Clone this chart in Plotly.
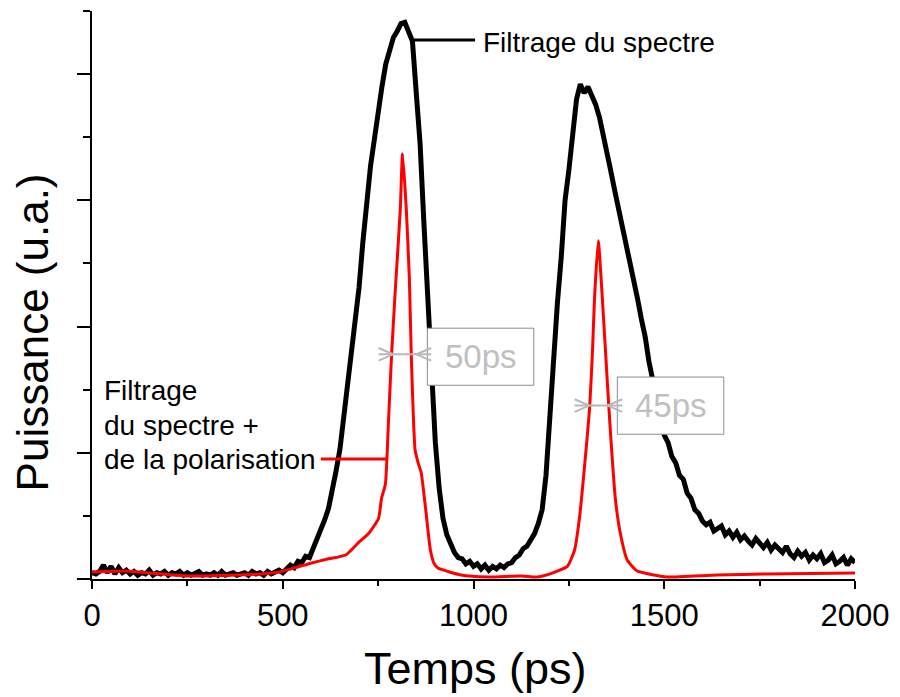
import plotly.graph_objects as go

# Spectral filtering only: measured trace, sampled every 10 ps
time_black = list(range(0, 2001, 10))
power_black = [
    0.05, 0.04, 0.06, 0.11, 0.05, 0.10, 0.04, 0.09, 0.05, 0.07,
    0.04, 0.06, 0.03, 0.05, 0.04, 0.07, 0.03, 0.05, 0.04, 0.06,
    0.03, 0.05, 0.04, 0.06, 0.03, 0.05, 0.03, 0.04, 0.06, 0.03,
    0.04, 0.03, 0.05, 0.03, 0.06, 0.03, 0.04, 0.05, 0.03, 0.04,
    0.05, 0.03, 0.06, 0.04, 0.05, 0.03, 0.06, 0.04, 0.05, 0.07,
    0.05, 0.08, 0.11, 0.09, 0.14, 0.13, 0.18, 0.17, 0.24, 0.31,
    0.40, 0.47, 0.56, 0.70, 0.86, 1.03, 1.28, 1.55, 1.78, 2.03,
    2.31, 2.67, 2.98, 3.27, 3.48, 3.73, 3.90, 4.08, 4.20, 4.29,
    4.34, 4.40, 4.41, 4.33, 4.26, 3.85, 3.45, 2.82, 2.27, 1.70,
    1.08, 0.72, 0.48, 0.35, 0.28, 0.21, 0.17, 0.16, 0.12, 0.14,
    0.10, 0.12, 0.08, 0.11, 0.07, 0.10, 0.08, 0.11, 0.09, 0.12,
    0.13, 0.17, 0.19, 0.24, 0.26, 0.31, 0.36, 0.44, 0.55, 0.82,
    1.30, 1.80, 2.19, 2.55, 3.00, 3.24, 3.57, 3.80, 3.92, 3.85,
    3.90, 3.83, 3.76, 3.66, 3.53, 3.40, 3.23, 3.08, 2.94, 2.82,
    2.66, 2.54, 2.36, 2.22, 2.06, 1.92, 1.72, 1.57, 1.43, 1.30,
    1.14, 1.08, 0.97, 0.92, 0.82, 0.79, 0.68, 0.64, 0.55, 0.52,
    0.46, 0.43, 0.45, 0.38, 0.40, 0.42, 0.35, 0.38, 0.33, 0.37,
    0.31, 0.34, 0.30, 0.27, 0.32, 0.29, 0.25, 0.29, 0.23, 0.27,
    0.24, 0.21, 0.26, 0.20, 0.17, 0.22, 0.18, 0.21, 0.15, 0.19,
    0.16, 0.20, 0.13, 0.15, 0.19, 0.12, 0.14, 0.17, 0.11, 0.16,
    0.13,
]

# Spectral + polarisation filtering
time_red = [
    0, 90, 150, 250, 360, 440, 490, 576, 620, 665, 699, 725, 751, 759, 769,
    777, 785, 795, 808, 814, 824, 832, 837, 847, 855, 863, 874, 887, 897, 907,
    967, 1038, 1124, 1168, 1213, 1246, 1265, 1278, 1291, 1304, 1312, 1317,
    1327, 1338, 1351, 1359, 1372, 1385, 1403, 1429, 1473, 1507, 1638, 1768, 2000,
]
power_red = [
    0.055, 0.063, 0.048, 0.024, 0.03, 0.04, 0.055, 0.127, 0.16, 0.19, 0.29, 0.36, 0.48, 0.64, 0.75,
    1.24, 1.76, 2.29, 2.92, 3.37, 2.92, 2.37, 1.76, 1.02, 0.92, 0.84, 0.57, 0.23, 0.12, 0.087,
    0.032, 0.016, 0.024, 0.016, 0.055, 0.10, 0.23, 0.49, 0.89, 1.34, 1.81, 2.21,
    2.68, 2.21, 1.55, 1.16, 0.63, 0.36, 0.15, 0.063, 0.032, 0.016, 0.032, 0.04, 0.048,
]

# Pulse-width markers: level, arrow tip times, label, label box
fwhm_levels = [1.78, 1.374]
fwhm_tips = [(790, 850), (1304, 1351)]
fwhm_labels = ["50ps", "45ps"]
fwhm_boxes = [(879, 1158, 1.535, 1.987), (1377, 1656, 1.147, 1.60)]

FONT = "Liberation Sans, Arial, sans-serif"

fig = go.Figure()
fig.add_trace(go.Scatter(x=time_black, y=power_black, mode="lines",
                         line=dict(color="black", width=5), showlegend=False))
fig.add_trace(go.Scatter(x=time_red, y=power_red, mode="lines",
                         line=dict(color="#ff0000", width=3, shape="spline", smoothing=0.5),
                         showlegend=False))

shapes = []
annotations = []
gray = "#b8b8b8"
for lvl, (tl, tr), lab, (bx0, bx1, by0, by1) in zip(fwhm_levels, fwhm_tips, fwhm_labels, fwhm_boxes):
    shapes.append(dict(type="rect", xref="x", yref="y", x0=bx0, x1=bx1, y0=by0, y1=by1,
                       line=dict(color="#8c8c8c", width=1), fillcolor="white", layer="above"))
    arm_x = 39
    arm_y = 0.05
    shapes.append(dict(type="line", xref="x", yref="y", x0=tl - arm_x, x1=tr + arm_x, y0=lvl, y1=lvl,
                       line=dict(color=gray, width=2), layer="above"))
    for x0, x1 in ((tl - arm_x, tl), (tr + arm_x, tr)):
        shapes.append(dict(type="path", xref="x", yref="y",
                           path=f"M {x0},{lvl + arm_y} L {x1},{lvl} L {x0},{lvl - arm_y}",
                           line=dict(color=gray, width=2), layer="above"))
    annotations.append(dict(x=(bx0 + bx1) / 2, y=(by0 + by1) / 2, xref="x", yref="y",
                            text=lab, showarrow=False, font=dict(family=FONT, size=33, color="#c0c0c0")))

# Leader lines for the curve labels
shapes.append(dict(type="line", xref="x", yref="y", x0=842, x1=1004, y0=4.27, y1=4.27,
                   line=dict(color="black", width=3)))
shapes.append(dict(type="line", xref="x", yref="y", x0=600, x1=773, y0=0.95, y1=0.95,
                   line=dict(color="#ff0000", width=3)))

annotations.append(dict(x=1020, y=4.25, xref="x", yref="y", text="Filtrage du spectre",
                        showarrow=False, xanchor="left", yanchor="middle",
                        font=dict(family=FONT, size=28, color="black")))
for txt, yv in zip(["Filtrage", "du spectre +", "de la polarisation"], [1.49, 1.215, 0.945]):
    annotations.append(dict(x=26, y=yv, xref="x", yref="y", text=txt, showarrow=False,
                            xanchor="left", yanchor="middle",
                            font=dict(family=FONT, size=28, color="black")))

# Axis titles
annotations.append(dict(x=0.503, y=-0.157, xref="paper", yref="paper", text="Temps (ps)",
                        showarrow=False, xanchor="center", yanchor="middle",
                        font=dict(family=FONT, size=45, color="black")))
annotations.append(dict(x=-0.078, y=0.435, xref="paper", yref="paper", text="Puissance (u.a.)",
                        showarrow=False, textangle=-90, xanchor="center", yanchor="middle",
                        font=dict(family=FONT, size=44, color="black")))

fig.update_layout(
    width=900, height=697,
    margin=dict(l=92, r=41, t=11, b=118),
    paper_bgcolor="white", plot_bgcolor="white",
    font=dict(family=FONT, color="black"),
    shapes=shapes, annotations=annotations,
    xaxis=dict(range=[0, 2000], showgrid=False, zeroline=False,
               showline=True, linecolor="black", linewidth=2,
               ticks="outside", ticklen=8, tickwidth=2, tickcolor="black",
               tickmode="linear", tick0=0, dtick=500,
               tickfont=dict(family=FONT, size=31, color="black"),
               minor=dict(dtick=250, ticks="outside", ticklen=5, tickwidth=2, tickcolor="black")),
    yaxis=dict(range=[0, 4.5], showgrid=False, zeroline=False,
               showline=True, linecolor="black", linewidth=2,
               ticks="outside", ticklen=13, tickwidth=2, tickcolor="black",
               tickmode="linear", tick0=0, dtick=1, showticklabels=False,
               minor=dict(dtick=0.5, ticks="outside", ticklen=7, tickwidth=2, tickcolor="black")),
)

fig.write_html("out.html")
